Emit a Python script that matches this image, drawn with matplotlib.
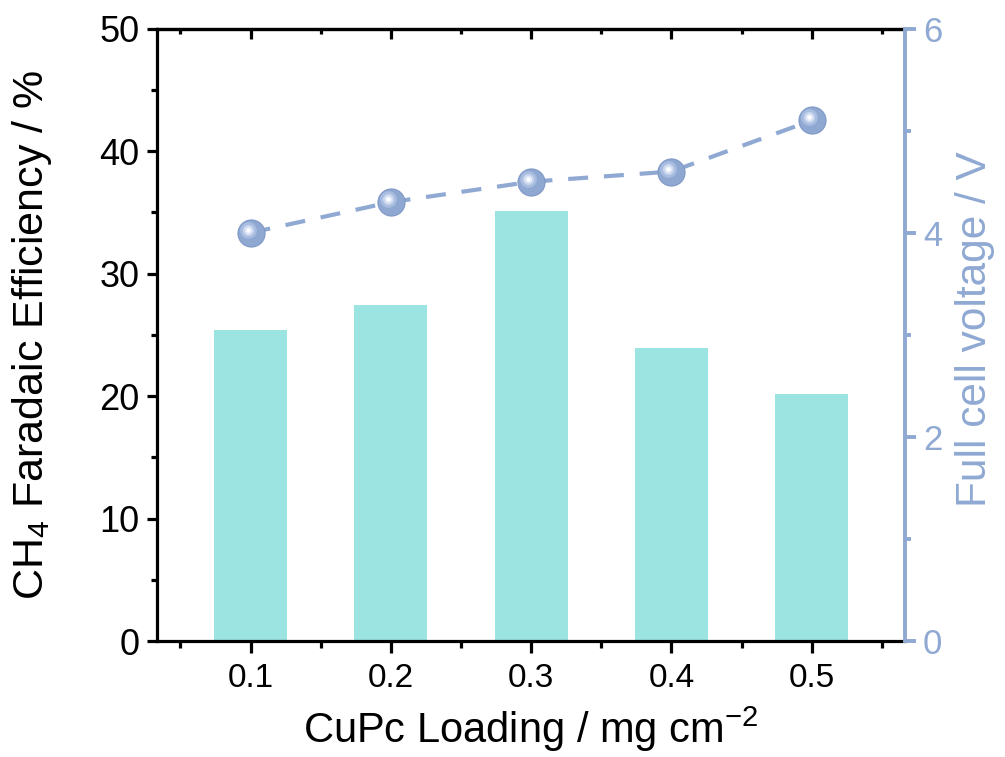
import matplotlib
matplotlib.use("Agg")
import matplotlib.pyplot as plt
import matplotlib.transforms as mtransforms
import numpy as np

plt.rcParams['font.family'] = ['Liberation Sans', 'DejaVu Sans']
plt.rcParams['mathtext.fontset'] = 'custom'
plt.rcParams['mathtext.rm'] = 'Liberation Sans'
plt.rcParams['mathtext.it'] = 'Liberation Sans:italic'
plt.rcParams['mathtext.bf'] = 'Liberation Sans:bold'

loading = [0.1, 0.2, 0.3, 0.4, 0.5]
fe_ch4 = [25.4, 27.4, 35.1, 23.9, 20.2]
voltage = [4.00, 4.30, 4.50, 4.60, 5.10]
x_ticklabels = ["0.1", "0.2", "0.3", "0.4", "0.5"]

bar_color = "#9CE4E1"
blue = "#8FA9D3"

fig = plt.figure(figsize=(10.05, 7.57), dpi=100)
ax = fig.add_axes([0.1562, 0.1532, 0.9005 - 0.1562, 0.9622 - 0.1532])

ax.bar(loading, fe_ch4, width=0.052, color=bar_color, zorder=2)
ax.set_xlim(0.0333, 0.5665)
ax.set_ylim(0, 50)
ax.set_xticks(loading)
ax.set_xticklabels(x_ticklabels)
ax.set_xticks(np.arange(0.05, 0.56, 0.1), minor=True)
ax.set_yticks(np.arange(0, 51, 10))
ax.set_yticks(np.arange(5, 50, 10), minor=True)

for s in ['left', 'bottom', 'top']:
    ax.spines[s].set_linewidth(2.3)
    ax.spines[s].set_color('black')
ax.spines['right'].set_visible(False)

ax.tick_params(axis='x', which='major', direction='out', length=8.5, width=2.3,
               labelsize=24, pad=7, top=False)
ax.tick_params(axis='x', which='minor', direction='out', length=5, width=2.3, top=False)
ax.tick_params(axis='y', which='major', direction='out', length=7.5, width=2.3,
               labelsize=26, pad=5, right=False)
ax.tick_params(axis='y', which='minor', direction='out', length=4, width=2.3, right=False)

# top inward ticks via secondary axis
axt = ax.secondary_xaxis('top')
axt.set_xticks(loading)
axt.set_xticks(np.arange(0.05, 0.56, 0.1), minor=True)
axt.tick_params(axis='x', which='major', direction='in', length=7, width=2.3, labeltop=False)
axt.tick_params(axis='x', which='minor', direction='in', length=3.5, width=2.3)
axt.spines['top'].set_linewidth(2.3)

ax.set_xlabel("CuPc Loading / mg cm$^{\\mathregular{-2}}$", fontsize=30, labelpad=8)
ax.set_ylabel("CH$_{\\mathregular{4}}$ Faradaic Efficiency / %", fontsize=31)
ax.yaxis.set_label_coords(-0.138, 0.5)

ax2 = ax.twinx()
ax2.set_ylim(0, 6)
ax2.set_yticks([0, 2, 4, 6])
ax2.set_yticks([1, 3, 5], minor=True)
for s in ['left', 'bottom', 'top']:
    ax2.spines[s].set_visible(False)
ax2.spines['right'].set_color(blue)
ax2.spines['right'].set_linewidth(2.8)
ax2.tick_params(axis='y', which='major', direction='out', length=8, width=2.8,
                colors=blue, labelsize=25, pad=5)
ax2.tick_params(axis='y', which='minor', direction='out', length=4.5, width=2.8, colors=blue)
ax2.set_ylabel("Full cell voltage / V", fontsize=30.5, color=blue)
ax2.yaxis.set_label_coords(1.067, 0.51)

line, = ax2.plot(loading, voltage, color=blue, lw=3, zorder=3)
line.set_dashes((4.8, 3.8))
# sphere-like markers
ax2.plot(loading, voltage, 'o', ms=19.5, color="#8EA8D2", mec="none", zorder=4)
ax2.plot(loading, voltage, 'o', ms=19.5, color="none", mec="#7F99C6", mew=0.8, zorder=4)
shift = ax2.transData + mtransforms.ScaledTranslation(-3 / 100, 3 / 100, fig.dpi_scale_trans)
for ms, c in [(12, "#A9BDE0"), (8, "#C9D6EE"), (5, "#E8EEF9"), (2.5, "#FFFFFF")]:
    ax2.plot(loading, voltage, 'o', ms=ms, color=c, mec="none", zorder=5, transform=shift)

fig.savefig("out.png", dpi=100)
